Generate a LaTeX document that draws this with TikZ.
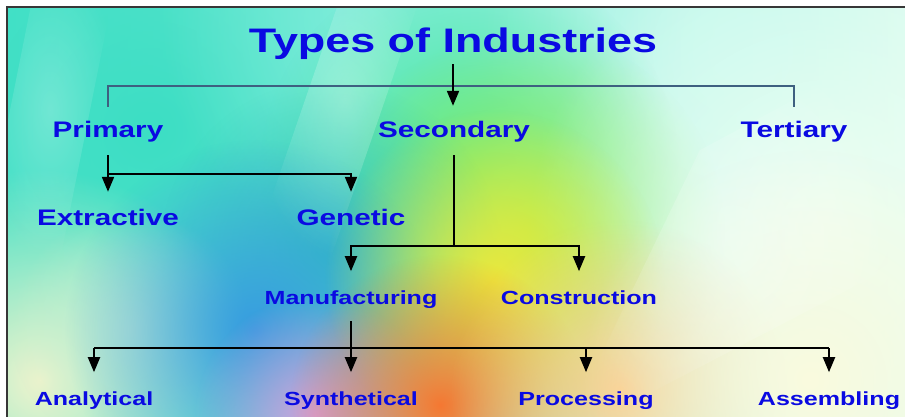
\documentclass[tikz,border=0pt]{standalone}
\usepackage{fontspec}
\newfontfamily\lblfont[FakeStretch=1.32]{Liberation Sans Bold}
\usetikzlibrary{arrows.meta,fadings}

\definecolor{ink}{RGB}{10,10,226}
\definecolor{slate}{RGB}{62,96,128}
\definecolor{framegray}{RGB}{55,55,55}
% backdrop palette
\definecolor{bgL}{RGB}{70,226,200}
\definecolor{bgR}{RGB}{226,252,240}
\definecolor{turq}{RGB}{60,222,196}
\definecolor{aqua}{RGB}{130,238,220}
\definecolor{mint}{RGB}{70,230,150}
\definecolor{lime}{RGB}{165,240,85}
\definecolor{paleR}{RGB}{238,255,242}
\definecolor{teal}{RGB}{50,195,190}
\definecolor{cream}{RGB}{240,244,205}
\definecolor{sage}{RGB}{200,240,210}
\definecolor{sky}{RGB}{55,155,225}
\definecolor{lilac}{RGB}{210,160,220}
\definecolor{sun}{RGB}{236,232,60}
\definecolor{tang}{RGB}{245,120,50}
\definecolor{peach}{RGB}{250,205,140}
\definecolor{ivory}{RGB}{250,250,222}
\definecolor{frost}{RGB}{200,250,240}

% soft round blob used to paint the backdrop
\tikzfading[name=blob, inner color=transparent!0, outer color=transparent!100]

\tikzset{
  h0/.style={font=\lblfont\fontsize{34}{40}\selectfont, text=ink, inner sep=0pt,
             anchor=base, text height=24.5pt, text depth=7pt},
  h1/.style={font=\lblfont\fontsize{22.5}{27}\selectfont, text=ink, inner sep=0pt,
             anchor=base, text height=16pt, text depth=5pt},
  h2/.style={font=\lblfont\fontsize{19}{23}\selectfont, text=ink, inner sep=0pt,
             anchor=base, text height=13.6pt, text depth=4pt},
  wire/.style={draw=black, line width=2pt},
  arr/.style={wire, -{Triangle[width=12pt,length=15pt]}},
  bracket/.style={draw=slate, line width=2pt},
  spot/.style={path fading=blob},
}

\begin{document}
\begin{tikzpicture}[x=1pt,y=-1pt]
\useasboundingbox (0,0) rectangle (905,417);
\fill[white] (0,0) rectangle (905,417);

% ---- colourful backdrop ----
\begin{scope}
  \clip (7,7) rectangle (905,417);
  \shade[left color=bgL, right color=bgR] (7,7) rectangle (905,417);
  \fill[spot, turq]  (150,130) circle [radius=330pt];
  \fill[spot, aqua]  (420,20)  circle [radius=260pt];
  \fill[spot, frost] (740,50)  circle [radius=260pt];
  \fill[spot, mint]  (470,170) circle [radius=210pt];
  \fill[spot, lime]  (525,230) circle [radius=200pt];
  \fill[spot, paleR] (830,230) circle [radius=300pt];
  \fill[spot, teal]  (330,250) circle [radius=170pt];
  \fill[spot, cream] (40,380)  circle [radius=210pt];
  \fill[spot, sage]  (130,330) circle [radius=120pt];
  \fill[spot, sky]   (255,330) circle [radius=190pt];
  \fill[spot, lilac] (315,415) circle [radius=120pt];
  \fill[spot, sun]   (495,280) circle [radius=170pt];
  \fill[spot, tang]  (440,405) circle [radius=150pt];
  \fill[spot, peach] (620,390) circle [radius=170pt];
  \fill[spot, ivory] (810,380) circle [radius=230pt];
  % pale diagonal sweeps
  \fill[white, opacity=0.25, spot] (40,-40) -- (120,-40) -- (60,260) -- (-20,260) -- cycle;
  \fill[white, opacity=0.3, spot] (360,-60) -- (440,-60) -- (330,260) -- (250,260) -- cycle;
  \fill[white, opacity=0.3, spot] (700,150) -- (905,40) -- (905,260) -- (560,440) -- cycle;
\end{scope}
\draw[framegray, line width=2pt] (7,417) -- (7,7) -- (905,7);

% ---- labels ----
\node[h0] (title) at (453,53) {Types of Industries};

\node[h1] (prim) at (108,138) {Primary};
\node[h1] (sec)  at (454,138) {Secondary};
\node[h1] (ter)  at (794,138) {Tertiary};

\node[h1] (ext) at (108,225) {Extractive};
\node[h1] (gen) at (351,225) {Genetic};

\node[h2] (man) at (351,304) {Manufacturing};
\node[h2] (con) at (579,304) {Construction};

\node[h2] (ana) at (94,405)  {Analytical};
\node[h2] (syn) at (351,405) {Synthetical};
\node[h2] (pro) at (586,405) {Processing};
\node[h2] (asm) at (829,405) {Assembling};

% junction rows
\coordinate (rowA) at (0,86);
\coordinate (rowB) at (0,174);
\coordinate (rowC) at (0,246);
\coordinate (rowD) at (0,348);

% ---- connectors ----
\draw[bracket, shorten <=15pt, shorten >=15pt]
  (prim.north) -- (prim.north |- rowA) -- (ter.north |- rowA) -- (ter.north);
\draw[arr, shorten <=4pt, shorten >=16pt] (title.south) -- (title.south |- sec.north);

\draw[arr, shorten <=12pt, shorten >=17pt] (prim.south) -- (prim.south |- ext.north);
\draw[arr, shorten >=17pt] (prim.south |- rowB) -- (gen.north |- rowB) -- (gen.north);

\draw[arr, shorten <=12pt, shorten >=19pt]
  (sec.south) -- (sec.south |- rowC) -- (man.north |- rowC) -- (man.north);
\draw[arr, shorten >=19pt] (sec.south |- rowC) -- (con.north |- rowC) -- (con.north);

\draw[arr, shorten <=13pt, shorten >=19pt] (man.south) -- (man.south |- syn.north);
\draw[wire] (ana.north |- rowD) -- (asm.north |- rowD);
\draw[arr, shorten >=19pt] (ana.north |- rowD) -- (ana.north);
\draw[arr, shorten >=19pt] (pro.north |- rowD) -- (pro.north);
\draw[arr, shorten >=19pt] (asm.north |- rowD) -- (asm.north);
\end{tikzpicture}
\end{document}
